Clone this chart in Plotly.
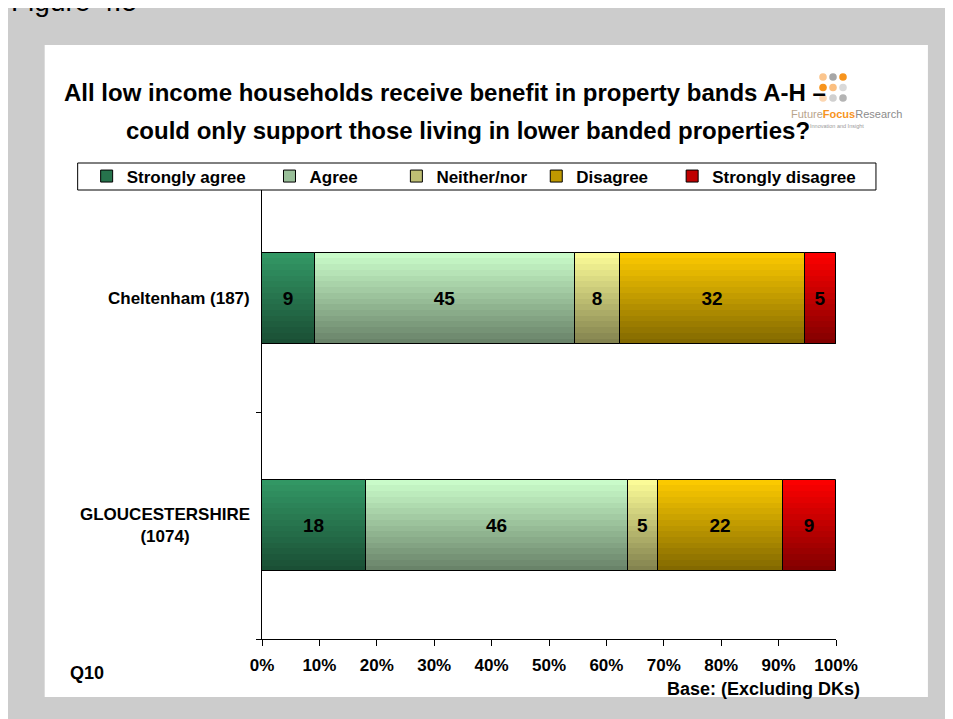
import plotly.graph_objects as go

# ---------------- data ----------------
categories = ["Cheltenham (187)", "GLOUCESTERSHIRE (1074)"]
category_labels = ["Cheltenham (187)", "GLOUCESTERSHIRE<br>(1074)"]
series_names = ["Strongly agree", "Agree", "Neither/nor", "Disagree", "Strongly disagree"]
cheltenham = [9.2, 45.4, 7.8, 32.2, 5.4]
gloucestershire = [18.1, 45.6, 5.3, 21.8, 9.2]
x_tick_values = [0, 10, 20, 30, 40, 50, 60, 70, 80, 90, 100]
x_tick_labels = ["0%", "10%", "20%", "30%", "40%", "50%", "60%", "70%", "80%", "90%", "100%"]

title_line1 = "All low income households receive benefit in property bands A-H \u2013"
title_line2 = "could only support those living in lower banded properties?"
question_label = "Q10"
base_note = "Base: (Excluding DKs)"
figure_label = "Figure 4.5"

# ---------------- styling ----------------
top_colors = [(51, 153, 102), (204, 255, 204), (255, 255, 153), (255, 204, 0), (255, 0, 0)]
SHADE = 0.5
N_STRIPS = 16
BAR_W = 0.405
FONT = "Liberation Sans, Arial, sans-serif"

OFF = 8                      # page offset of the figure (body margin)
W, H = 945, 711
PLOT_L, PLOT_R, PLOT_T, PLOT_B = 261.5, 836, 185, 639   # page pixels
ML = PLOT_L - OFF
MR = W - (PLOT_R - OFF)
MT = PLOT_T - OFF
MB = H - (PLOT_B - OFF)
PW, PH = W - ML - MR, H - MT - MB


def xp(px):
    return (px - OFF - ML) / PW


def yp(py):
    return (H - MB - (py - OFF)) / PH


def rgb(c):
    return "rgb(%d,%d,%d)" % tuple(int(round(v)) for v in c)


def mix(c, t):
    # t=0 top colour, t=1 darkened bottom colour
    return tuple(v * (1 - t) + v * SHADE * t for v in c)


values = [[cheltenham[s], gloucestershire[s]] for s in range(len(series_names))]
bases = []
running = [0.0, 0.0]
for s in range(len(series_names)):
    bases.append(list(running))
    running = [running[k] + values[s][k] for k in range(2)]

fig = go.Figure()

# gradient strips (top -> bottom), each strip extends to the bottom edge
for s, name in enumerate(series_names):
    for i in range(N_STRIPS):
        t = (i + 0.5) / N_STRIPS
        fig.add_trace(go.Bar(
            orientation="h",
            y=categories,
            x=values[s],
            base=bases[s],
            width=BAR_W * (1 - i / N_STRIPS),
            offset=-BAR_W / 2,
            marker=dict(color=rgb(mix(top_colors[s], t)), line=dict(width=0)),
            showlegend=False,
            hoverinfo="skip",
        ))

# outlines + value labels
for s, name in enumerate(series_names):
    fig.add_trace(go.Bar(
        orientation="h",
        y=categories,
        x=values[s],
        base=bases[s],
        width=BAR_W,
        offset=-BAR_W / 2,
        marker=dict(color="rgba(0,0,0,0)", line=dict(color="black", width=1)),
        texttemplate="%{x:.0f}",
        textposition="inside",
        insidetextanchor="middle",
        textangle=0,
        textfont=dict(family=FONT, size=19, color="black", weight="bold"),
        name=name,
        showlegend=False,
        hovertemplate=name + ": %{x:.0f}%<extra></extra>",
    ))

# legend entries, one legend each so they sit where the original has them
legend_text_starts = [120, 303, 430, 570, 706]
legend_layouts = {}
for s, name in enumerate(series_names):
    key = "legend" if s == 0 else "legend%d" % (s + 1)
    fig.add_trace(go.Bar(
        orientation="h",
        x=[None], y=[None],
        name=name,
        marker=dict(color=rgb(mix(top_colors[s], 0.5)), line=dict(color="black", width=1)),
        showlegend=True,
        legend=key,
    ))
    legend_layouts[key] = dict(
        x=xp(legend_text_starts[s] - 34), xanchor="left",
        y=yp(176.5), yanchor="middle",
        orientation="h",
        bgcolor="rgba(0,0,0,0)", borderwidth=0,
        font=dict(family=FONT, size=17, color="black", weight="bold"),
        itemclick=False, itemdoubleclick=False,
    )

shapes = [
    # white panel
    dict(type="rect", xref="paper", yref="paper",
         x0=xp(44), x1=xp(928), y0=yp(697), y1=yp(45),
         fillcolor="white", line=dict(width=0), layer="below"),
    # legend frame
    dict(type="rect", xref="paper", yref="paper",
         x0=xp(77), x1=xp(876), y0=yp(190), y1=yp(163),
         fillcolor="white", line=dict(color="black", width=1), layer="above"),
]

# logo dots
dot_cols = [
    ["#fbc58d", "#a6a6a6", "#f7941d"],
    ["#f7941d", "#fbbf80", "#d9d9d9"],
    ["#fcd6b0", "#d0d0d0", "#b4b4b4"],
]
for r, row in enumerate(dot_cols):
    for c, col in enumerate(row):
        cx, cy = 823 + 10 * c, 77 + 10.5 * r
        shapes.append(dict(type="circle", xref="paper", yref="paper",
                           x0=xp(cx - 3.8), x1=xp(cx + 3.8), y0=yp(cy + 3.8), y1=yp(cy - 3.8),
                           fillcolor=col, line=dict(width=0), layer="above"))

annotations = []
# logo text
annotations.append(dict(
    xref="paper", yref="paper", x=xp(904), y=yp(114), xanchor="right", yanchor="middle",
    text="<span style='color:#b9a48c'>Future</span><b><span style='color:#f7941d'>Focus</span></b>"
         "<span style='color:#8c8c8c'>Research</span>",
    showarrow=False, font=dict(family=FONT, size=11)))
annotations.append(dict(
    xref="paper", yref="paper", x=xp(808), y=yp(126), xanchor="left", yanchor="middle",
    text="Innovation and Insight", showarrow=False,
    font=dict(family=FONT, size=5.5, color="#9a9a9a")))
# title
annotations.append(dict(
    xref="paper", yref="paper", x=xp(445), y=yp(92), xanchor="center", yanchor="middle",
    text="<b>" + title_line1 + "</b>", showarrow=False,
    font=dict(family=FONT, size=24, color="black")))
annotations.append(dict(
    xref="paper", yref="paper", x=xp(468), y=yp(130), xanchor="center", yanchor="middle",
    text="<b>" + title_line2 + "</b>", showarrow=False,
    font=dict(family=FONT, size=24, color="black")))
# category labels
for cat, lab in zip(categories, category_labels):
    annotations.append(dict(
        xref="paper", yref="y", x=xp(251), y=cat, xanchor="right", yanchor="middle",
        text="<b>" + lab + "</b>", align="center", showarrow=False,
        font=dict(family=FONT, size=17, color="black")))
# footer texts
annotations.append(dict(
    xref="paper", yref="paper", x=xp(67), y=yp(673), xanchor="left", yanchor="middle",
    text="<b>" + question_label + "</b>", showarrow=False,
    font=dict(family=FONT, size=18, color="black")))
annotations.append(dict(
    xref="paper", yref="paper", x=xp(862), y=yp(689), xanchor="right", yanchor="middle",
    text="<b>" + base_note + "</b>", showarrow=False,
    font=dict(family=FONT, size=18, color="black")))
# figure caption, cut off at the top edge of the page
annotations.append(dict(
    xref="paper", yref="paper", x=xp(8), y=yp(19), xanchor="left", yanchor="bottom",
    text=figure_label, showarrow=False,
    font=dict(family=FONT, size=28, color="black")))

fig.update_layout(
    width=W, height=H, autosize=False,
    margin=dict(l=ML, r=MR, t=MT, b=MB, pad=0),
    paper_bgcolor="#cccccc",
    plot_bgcolor="rgba(0,0,0,0)",
    barmode="overlay",
    bargap=0,
    font=dict(family=FONT, color="black"),
    shapes=shapes,
    annotations=annotations,
    **legend_layouts,
)

fig.update_xaxes(
    range=[0, 100], tickmode="array", tickvals=x_tick_values, ticktext=x_tick_labels,
    showgrid=False, zeroline=False,
    showline=True, linecolor="black", linewidth=1.3,
    ticks="outside", ticklen=6, tickcolor="black", tickwidth=1.3,
    ticklabelstandoff=4,
    tickfont=dict(family=FONT, size=17, color="black", weight="bold"),
    fixedrange=True,
)
fig.update_yaxes(
    type="category", categoryorder="array", categoryarray=list(reversed(categories)),
    range=[-0.5, 1.5],
    showticklabels=False, showgrid=False, zeroline=False,
    showline=True, linecolor="black", linewidth=1.3,
    ticks="outside", ticklen=5, tickcolor="black", tickwidth=1.3, tickson="boundaries",
    fixedrange=True,
)

fig.write_html("out.html")
